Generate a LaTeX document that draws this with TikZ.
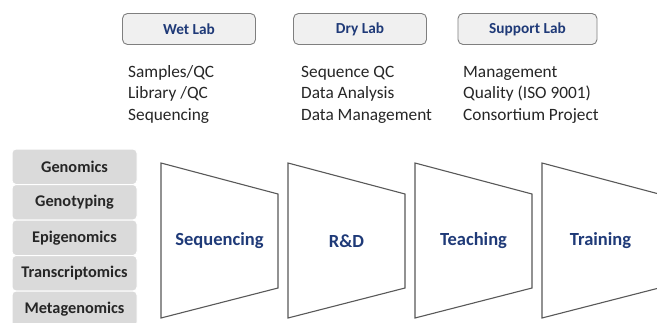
\documentclass[tikz,border=0pt]{standalone}
\usepackage{fontspec}
\setmainfont{Carlito}
\definecolor{navy}{HTML}{1F3A78}
\definecolor{boxline}{HTML}{7F7F7F}
\definecolor{boxfill}{HTML}{F0F0F0}
\definecolor{tabfill}{HTML}{DADADA}
\definecolor{edge}{HTML}{595959}
\begin{document}
\begin{tikzpicture}[x=1pt,y=-1pt,
  labbox/.style={draw=boxline,fill=boxfill,rounded corners=5pt,line width=0.9pt,
    minimum width=133pt,minimum height=31pt,inner sep=0pt,
    font=\fontsize{15.3}{18}\selectfont\bfseries,text=navy},
  duty/.style={anchor=base west,inner sep=0pt,
    font=\fontsize{17.3}{21.5}\selectfont,text=black!85},
  tab/.style={fill=tabfill,draw=white,line width=1pt,rounded corners=4pt,
    minimum width=125pt,minimum height=35.5pt,inner sep=0pt,
    font=\fontsize{16.3}{18}\selectfont\bfseries,text=black!85},
  funnel/.style={draw=edge,line width=1.1pt,line join=miter},
  stage/.style={font=\fontsize{18.5}{20}\selectfont\bfseries,text=navy}]
\clip (0,0) rectangle (657,322);
\fill[white] (0,0) rectangle (657,322);

% lab headers
\node[labbox] (wet) at (189,29) {Wet Lab};
\node[labbox] (dry) at (360,29) {Dry Lab};
\node[labbox,minimum width=139pt] (sup) at (527.5,29) {Support Lab};

% lab duties, one line each
\foreach \txt [count=\i from 0] in {Samples/QC,Library /QC,Sequencing}
  \node[duty] (wet-\i) at (128,{77+21.5*\i}) {\txt};
\foreach \txt [count=\i from 0] in {Sequence QC,Data Analysis,Data Management}
  \node[duty] (dry-\i) at (301,{77+21.5*\i}) {\txt};
\foreach \txt [count=\i from 0] in {Management,Quality (ISO 9001),Consortium Project}
  \node[duty] (sup-\i) at (463,{77+21.5*\i}) {\txt};

% omics tabs
\foreach \name/\txt [count=\i from 0] in {gen/Genomics,gty/Genotyping,epi/Epigenomics,trs/Transcriptomics,met/Metagenomics}
  \node[tab] (\name) at (74.5,{166.75+35.5*\i}) {\txt};

% stage funnels
\foreach \name/\txt [count=\i from 0] in {seq/Sequencing,rnd/R\&D,tch/Teaching,trn/Training}{
  \coordinate (\name-tl) at ({161+127*\i},163);
  \coordinate (\name-bl) at ({161+127*\i},318);
  \coordinate (\name-tr) at ({278+127*\i},194);
  \coordinate (\name-br) at ({278+127*\i},288);
  \draw[funnel] (\name-tl) -- (\name-tr) -- (\name-br) -- (\name-bl) -- cycle;
  \node[stage] (\name) at ({219.5+127*\i},241) {\txt};
}
\end{tikzpicture}
\end{document}
